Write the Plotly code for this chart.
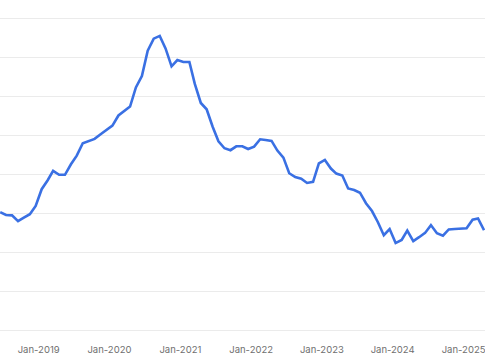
import pandas as pd
import plotly.graph_objects as go

# Monthly series, Jun-2018 .. Apr-2025
months = pd.date_range("2018-06-01", periods=83, freq="MS")
values = [
    30.4, 29.7, 29.6, 28.1, 29.0, 29.9, 32.0,            # Jun-Dec 2018
    36.3, 38.6, 41.0, 40.0, 40.0, 42.7, 44.9, 48.1, 48.6, 49.2, 50.4, 51.5,  # 2019
    52.6, 55.2, 56.4, 57.5, 62.4, 65.3, 71.8, 74.9, 75.6, 72.4, 67.8, 69.4,  # 2020
    68.9, 68.9, 63.3, 58.4, 56.8, 52.3, 48.6, 46.8, 46.3, 47.3, 47.3, 46.6,  # 2021
    47.2, 49.1, 48.9, 48.7, 46.2, 44.4, 40.4, 39.4, 39.0, 37.9, 38.2, 42.9,  # 2022
    43.8, 41.6, 40.3, 39.8, 36.5, 36.1, 35.4, 32.7, 30.7, 27.9, 24.5, 26.1,  # 2023
    22.5, 23.3, 25.7, 23.0, 24.0, 25.1, 27.1, 25.0, 24.4, 26.0, 26.1, 26.2,  # 2024
    26.3, 28.5, 28.8, 25.8,                               # Jan-Apr 2025
]
tick_dates = ["2019-01-01", "2020-01-01", "2021-01-01", "2022-01-01",
              "2023-01-01", "2024-01-01", "2025-01-01"]
tick_labels = ["Jan-2019", "Jan-2020", "Jan-2021", "Jan-2022",
               "Jan-2023", "Jan-2024", "Jan-2025"]

fig = go.Figure()
fig.add_trace(go.Scatter(
    x=months, y=values, mode="lines",
    line=dict(color="#3a70e3", width=2.6),
    hoverinfo="skip",
))

fig.update_layout(
    width=485, height=360,
    margin=dict(l=0, r=0, t=0, b=28, autoexpand=False),
    paper_bgcolor="white", plot_bgcolor="white",
    showlegend=False,
    font=dict(family="Inter, Lato, sans-serif", size=9.5, color="#6f6f6f"),
)
fig.update_xaxes(
    type="date",
    range=["2018-05-31", "2025-04-06"],
    tickvals=tick_dates, ticktext=tick_labels,
    showgrid=False, zeroline=False, showline=False,
    ticks="", ticklabelstandoff=10, ticklabelshift=-3,
    ticklabeloverflow="allow",
)
fig.update_yaxes(
    range=[-0.3, 84.8],
    dtick=10, tick0=0,
    showgrid=True, gridcolor="#ebebeb", gridwidth=1.3,
    zeroline=True, zerolinecolor="#ebebeb", zerolinewidth=1.3,
    showticklabels=False, showline=False, ticks="",
)

fig.write_html(
    "out.html",
    config={"displayModeBar": False},
    post_script="document.body.style.margin='0';document.body.style.overflow='hidden';",
)
